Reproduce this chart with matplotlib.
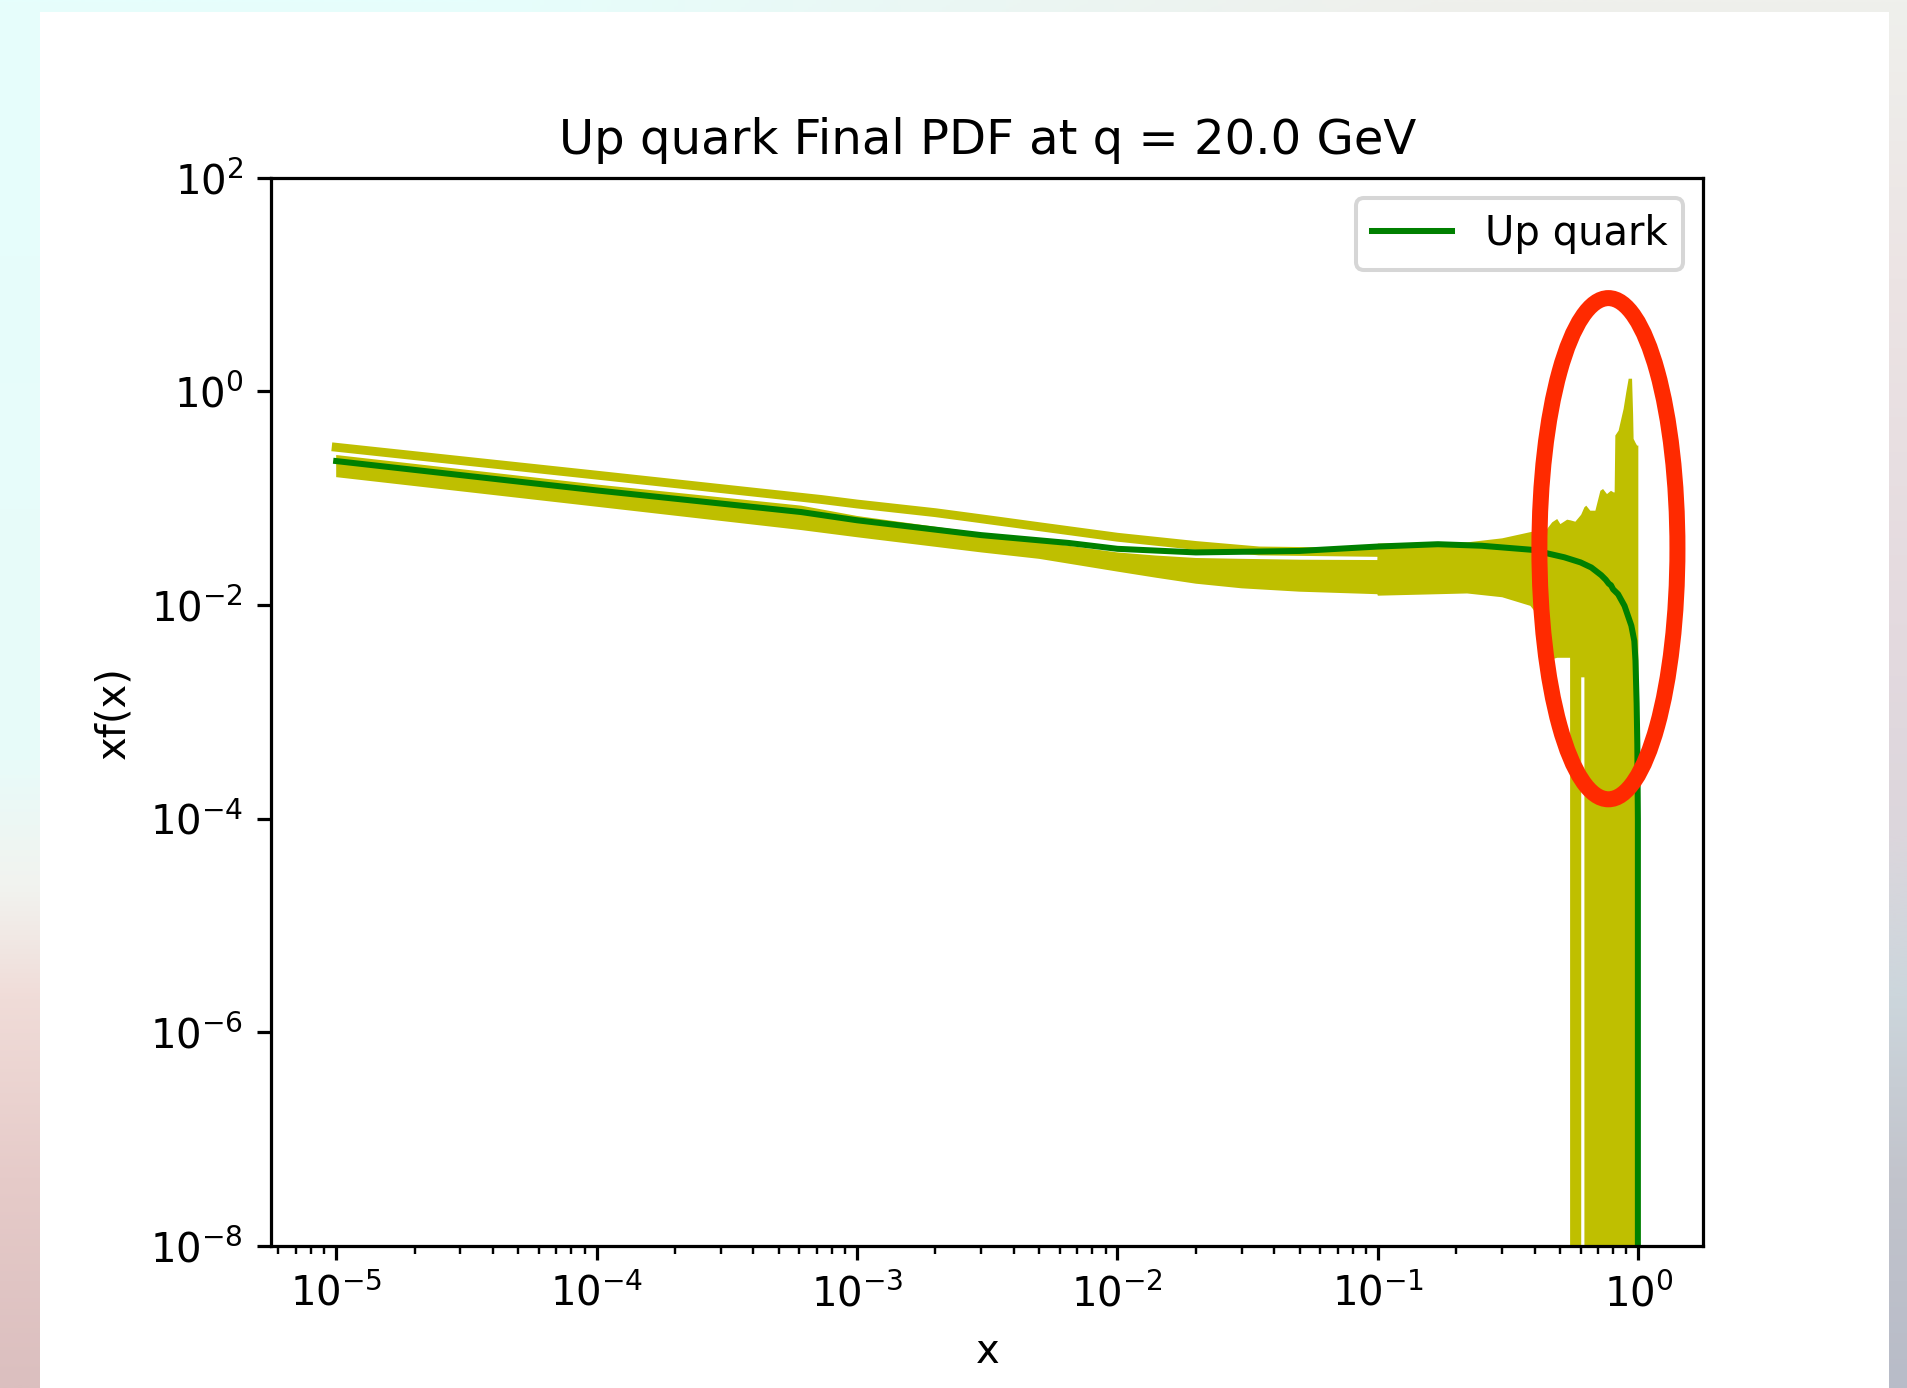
import numpy as np
import matplotlib
matplotlib.use("Agg")
import matplotlib.pyplot as plt
from matplotlib.colors import to_rgb
from matplotlib.patches import Ellipse, Rectangle

# central fit for the up quark, xf(x) at q = 20 GeV
x_central = [1e-5, 1e-4, 6.1e-4, 1e-3, 3e-3, 6.5e-3, 1e-2, 2e-2, 5e-2, 0.1,
             0.17, 0.25, 0.39, 0.52, 0.6, 0.66, 0.72, 0.75, 0.77, 0.785,
             0.80, 0.836, 0.885, 0.94, 0.965, 0.975, 0.985, 0.991, 0.996, 1.0]
xf_central = [0.222, 0.118, 0.074, 0.062, 0.045, 0.038, 0.0335, 0.031, 0.032, 0.0352,
              0.037, 0.0358, 0.0328, 0.0279, 0.025, 0.0224, 0.019, 0.0172, 0.0158, 0.0153,
              0.0140, 0.0126, 0.0098, 0.0064, 0.0046, 0.0030, 0.0012, 5e-4, 1e-4, 0.0]

# envelope of the replica fits (lower edge 0 where replicas go negative)
x_band = [1e-5, 1e-4, 6.1e-4, 1e-3, 3e-3, 5e-3, 1e-2, 1.4e-2, 2e-2, 3e-2,
          5e-2, 0.0995, 0.1, 0.15, 0.22, 0.3, 0.385, 0.42, 0.446, 0.467,
          0.488, 0.502, 0.533, 0.547, 0.548, 0.573, 0.599, 0.6034, 0.6035, 0.6208,
          0.6209, 0.631, 0.654, 0.684, 0.715, 0.732, 0.758, 0.785, 0.804, 0.811,
          0.816, 0.840, 0.878, 0.899, 0.918, 0.946, 0.955, 0.959, 0.975, 0.989,
          1.0]
xf_band_hi = [0.253, 0.134, 0.085, 0.068, 0.047, 0.039, 0.031, 0.029, 0.0275, 0.027,
              0.0265, 0.0263, 0.0375, 0.038, 0.0385, 0.042, 0.048, 0.050, 0.0513, 0.0593,
              0.0637, 0.0571, 0.0628, 0.062, 0.062, 0.0601, 0.0684, 0.070, 0.070, 0.082,
              0.082, 0.0849, 0.0762, 0.0762, 0.117, 0.1216, 0.109, 0.117, 0.113, 0.113,
              0.385, 0.428, 0.684, 0.98, 1.31, 1.31, 0.60, 0.358, 0.33, 0.31,
              0.31]
xf_band_lo = [0.157, 0.083, 0.0502, 0.043, 0.031, 0.027, 0.0205, 0.018, 0.0158, 0.0143,
              0.0133, 0.0126, 0.0122, 0.0125, 0.0128, 0.0118, 0.0098, 0.0075, 0.0048, 0.0031,
              0.0032, 0.0032, 0.0032, 0.0032, 0.0, 0.0, 0.0, 0.0, 0.0021, 0.0021,
              0.0, 0.0, 0.0, 0.0, 0.0, 0.0, 0.0, 0.0, 0.0, 0.0,
              0.0, 0.0, 0.0, 0.0, 0.0, 0.0, 0.0, 0.0, 0.0, 0.0,
              0.0]

# one replica sitting above the rest below x = 0.1
x_stray = [1e-5, 1e-4, 7.3e-4, 1e-3, 2e-3, 3e-3, 5e-3, 1e-2, 2e-2, 3.5e-2, 0.0995]
xf_stray = [0.299, 0.164, 0.097, 0.088, 0.073, 0.064, 0.054, 0.043, 0.036, 0.032, 0.031]

title = "Up quark Final PDF at q = 20.0 GeV"
label = "Up quark"

W, H, dpi = 1907, 1388, 289

# pastel backdrop behind the white canvas (top -> bottom colour stops)
left_stops = [(0.0, "#e6fefc"), (0.55, "#e8fbf9"), (0.64, "#f2f3ef"),
              (0.72, "#f0dcd8"), (0.85, "#e6cbc9"), (1.0, "#dbbfbf")]
right_stops = [(0.0, "#eff0ec"), (0.2, "#ece4e4"), (0.45, "#e4dadf"),
               (0.6, "#dcd6dc"), (0.72, "#ccd6dc"), (0.85, "#c2c4cc"), (1.0, "#b8bcc8")]


def column(stops, n=200):
    t = np.linspace(0, 1, n)
    pos = [p for p, _ in stops]
    rgb = np.array([to_rgb(c) for _, c in stops])
    return np.stack([np.interp(t, pos, rgb[:, k]) for k in range(3)], axis=1)


fig = plt.figure(figsize=((W + 0.5) / dpi, (H + 0.5) / dpi), dpi=dpi)

bg = fig.add_axes([0, 0, 1, 1], zorder=-10)
img = np.stack([column(left_stops), column(right_stops)], axis=1)
bg.imshow(img, aspect="auto", extent=[0, 1, 0, 1], interpolation="bilinear")
bg.add_patch(Rectangle((40 / W, 0), (1889 - 40) / W, 1 - 12 / H,
                       facecolor="white", edgecolor="none"))
bg.set_xlim(0, 1)
bg.set_ylim(0, 1)
bg.axis("off")

ax = fig.add_axes([271 / W, 1 - 1246 / H, (1703 - 271) / W, (1246 - 178) / H])
ax.fill_between(x_band, xf_band_lo, xf_band_hi, color="y", lw=0)
ax.plot(x_stray, xf_stray, color="y", lw=2.2)
ax.plot(x_central, xf_central, color="g", lw=1.5, label=label)
ax.set_xscale("log")
ax.set_yscale("log")
ax.set_ylim(1e-8, 1e2)
ax.set_title(title)
ax.set_xlabel("x")
ax.set_ylabel("xf(x)")
ax.legend(loc="upper right")

# highlight the unstable large-x region
fig.add_artist(Ellipse((1608 / W, 1 - 549 / H), 138 / W, 501 / H,
                       transform=fig.transFigure, fill=False,
                       edgecolor="#ff2a00", lw=16 * 72 / dpi, zorder=5))

fig.savefig("out.png", dpi=dpi)
